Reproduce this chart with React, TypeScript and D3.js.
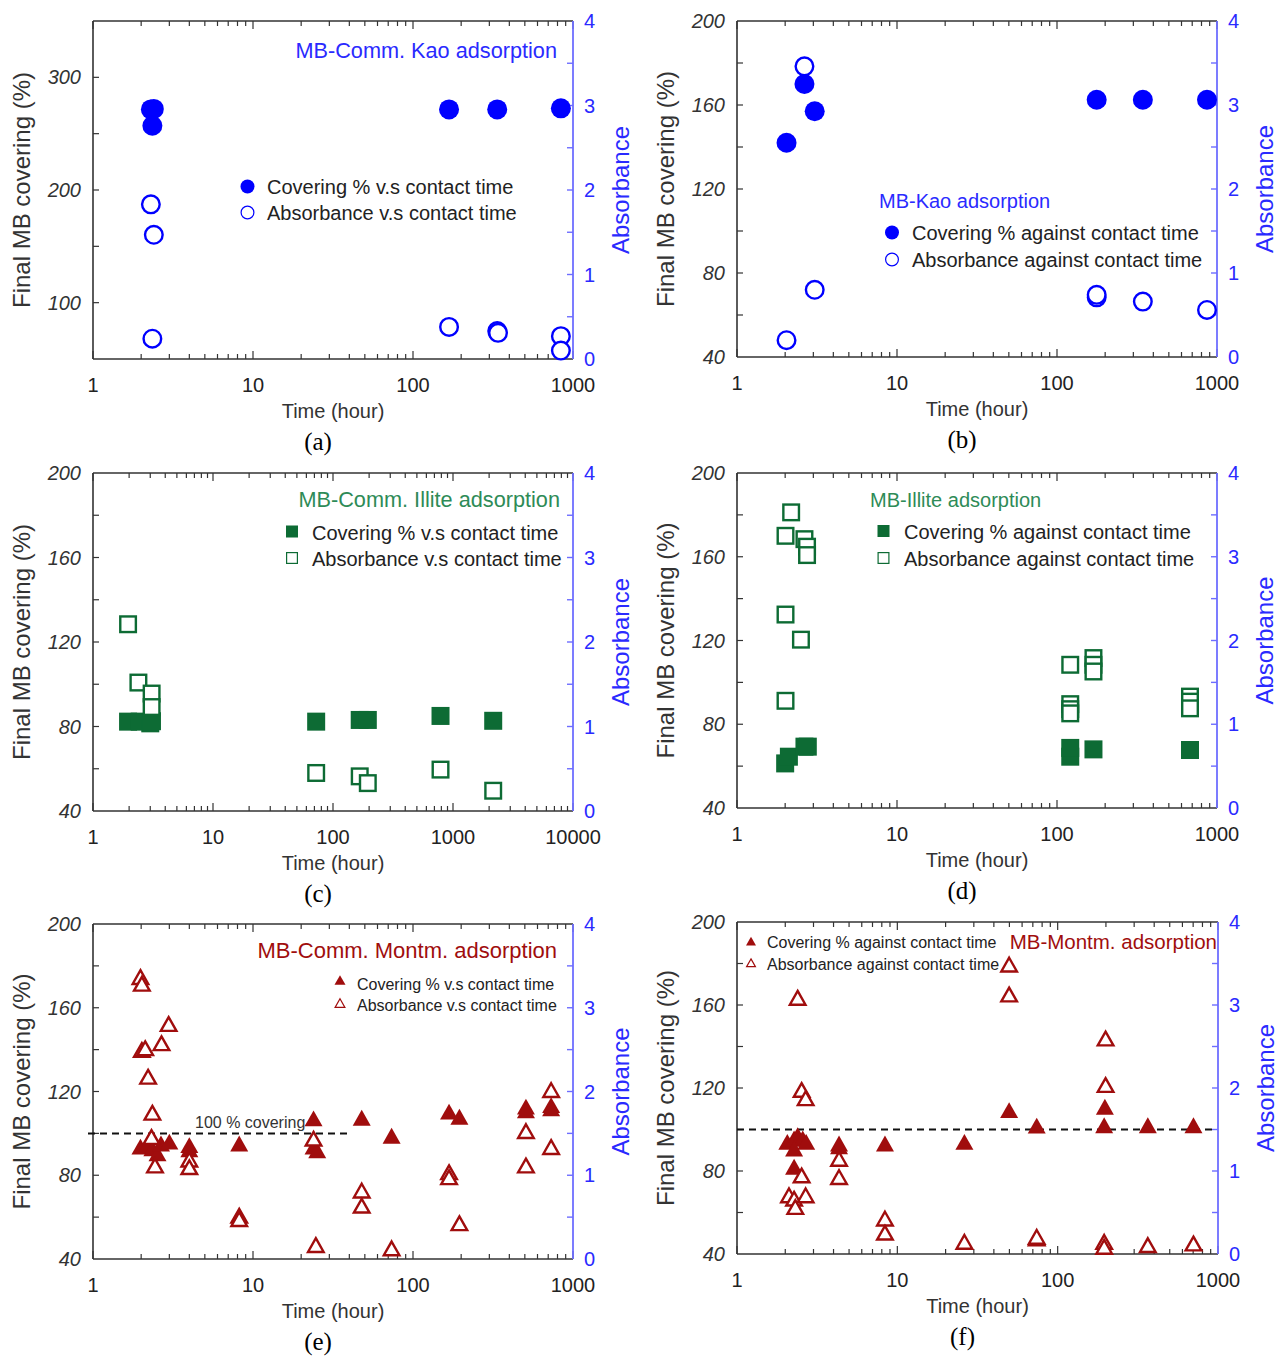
import React from 'react';
import * as d3 from 'd3';

// ---------- Data (time in hours; covering in %; absorbance) ----------
// (a) MB-Comm. Kao
const aCovTime = [2.3, 2.4, 2.35, 168, 336, 840];
const aCovValue = [271.5, 272, 257, 271.5, 271.5, 272.5];
const aAbsTime = [2.3, 2.4, 2.35, 168, 336, 340, 840, 840];
const aAbsValue = [1.83, 1.47, 0.24, 0.38, 0.33, 0.31, 0.27, 0.1];

// (b) MB-Kao
const bCovTime = [2.04, 2.64, 3.06, 177, 344, 866];
const bCovValue = [142, 170, 157, 162.5, 162.5, 162.5];
const bAbsTime = [2.64, 3.06, 2.04, 177, 177, 344, 866];
const bAbsValue = [3.46, 0.8, 0.2, 0.71, 0.74, 0.66, 0.56];

// (c) MB-Comm. Illite
const cCovTime = [1.96, 2.45, 3.0, 3.1, 72.4, 167, 195, 787, 2163];
const cCovValue = [82.3, 82.3, 81.5, 82.5, 82.3, 83.1, 83.1, 85, 82.7];
const cAbsTime = [1.96, 2.39, 3.08, 3.08, 72.4, 167, 195, 787, 2163];
const cAbsValue = [2.21, 1.52, 1.39, 1.23, 0.45, 0.41, 0.33, 0.49, 0.24];

// (d) MB-Illite
const dCovTime = [2.0, 2.11, 2.64, 2.77, 121, 121, 169, 678];
const dCovValue = [61.3, 64.5, 69.3, 69.3, 64.5, 68.7, 68, 67.7];
const dAbsTime = [2.18, 2.01, 2.64, 2.74, 2.74, 2.01, 2.51, 2.01, 121, 121, 121, 121, 169, 169, 169, 678, 678, 678];
const dAbsValue = [3.53, 3.25, 3.21, 3.12, 3.02, 2.31, 2.01, 1.28, 1.71, 1.24, 1.18, 1.13, 1.79, 1.71, 1.63, 1.33, 1.27, 1.19];

// (e) MB-Comm. Montm.
const eCovTime = [1.98, 2.18, 2.35, 2.53, 2.66, 3.0, 4.0, 4.0, 8.2, 23.9, 23.9, 25.2, 47.8, 73.5, 168, 195, 508, 508, 730, 730];
const eCovValue = [92.9, 93.6, 92.1, 89.7, 94.4, 95.3, 93.6, 91.6, 94.4, 106.4, 92.9, 91.2, 106.7, 98.1, 109.6, 107.2, 112, 110.2, 112.7, 111.2];
const eAbsTime = [1.98, 2.02, 2.02, 2.12, 2.21, 2.35, 2.32, 2.44, 2.68, 2.97, 4.0, 4.0, 8.2, 8.2, 24.7, 23.9, 47.8, 47.8, 73.5, 168, 168, 195, 508, 508, 730, 730];
const eAbsValue = [3.35, 3.27, 2.48, 2.5, 2.16, 1.73, 1.44, 1.1, 2.56, 2.79, 1.17, 1.08, 0.5, 0.46, 0.15, 1.42, 0.8, 0.62, 0.11, 1.02, 0.96, 0.41, 1.51, 1.1, 2.0, 1.32];

// (f) MB-Montm.
const fCovTime = [2.06, 2.27, 2.39, 2.57, 2.7, 2.27, 2.27, 4.33, 4.33, 8.37, 26.2, 49.8, 74, 197, 195, 365, 703];
const fCovValue = [93.3, 94.9, 96.5, 94.9, 93.3, 90.1, 81.3, 92.5, 91.1, 92.5, 93.3, 108.6, 101.1, 110.2, 101.3, 101.3, 101.3];
const fAbsTime = [49.8, 49.8, 2.39, 2.53, 2.68, 199, 199, 2.53, 4.33, 4.33, 2.11, 2.27, 2.68, 2.31, 8.37, 8.37, 26.2, 74, 74, 195, 195, 365, 703];
const fAbsValue = [3.47, 3.11, 3.07, 1.96, 1.86, 2.58, 2.02, 0.93, 1.13, 0.91, 0.69, 0.65, 0.69, 0.55, 0.41, 0.24, 0.13, 0.17, 0.19, 0.13, 0.07, 0.09, 0.11];

// tick labels
const xTickLabels1000 = [1, 10, 100, 1000];
const xTickLabels10000 = [1, 10, 100, 1000, 10000];
const aLeftLabels = [100, 200, 300];
const stdLeftLabels = [40, 80, 120, 160, 200];
const rightLabels = [0, 1, 2, 3, 4];

const FONT = "'Liberation Sans', Arial, sans-serif";
const SERIF = "'Liberation Serif', 'Times New Roman', serif";
const BLUE = '#0000ff';
const BLUE_TXT = '#2a2aff';
const BLUE_AXIS = '#6e6eff';
const GREEN = '#0d6b34';
const GREEN_TXT = '#2e8b57';
const RED = '#a00d0d';
const AXIS = '#333';

type Shape = 'circle' | 'square' | 'triangle';

interface LegendCfg {
  mx: number; y1: number; y2: number; tx: number; b1: number; b2: number;
  size: number; labels: string[]; ms: number;
}
interface PanelCfg {
  key: string;
  left: number; top: number; right: number; bottom: number;
  xMax: number; xLabels: number[];
  yMin: number; yMax: number; yLabels: number[]; yStep: number;
  color: string; titleColor: string; shape: Shape; ms: number;
  covT: number[]; covV: number[]; absT: number[]; absV: number[];
  title: string; titleX: number; titleY: number; titleAnchor: 'start' | 'end'; titleSize: number;
  legend: LegendCfg;
  caption: string;
  dash?: [number, number];
  dashText?: boolean;
}

function marker(shape: Shape, x: number, y: number, s: number, filled: boolean, color: string, sw: number, k: string) {
  const fill = filled ? color : '#fff';
  const stroke = color;
  if (shape === 'circle') {
    const r = filled ? s / 2 : s / 2 - sw / 2;
    return <circle key={k} cx={x} cy={y} r={r} fill={fill} stroke={filled ? 'none' : stroke} strokeWidth={sw} />;
  }
  if (shape === 'square') {
    const h = filled ? s / 2 : s / 2 - sw / 2;
    return <rect key={k} x={x - h} y={y - h} width={2 * h} height={2 * h} fill={fill} stroke={filled ? 'none' : stroke} strokeWidth={sw} />;
  }
  const w = filled ? s : s - sw;
  const hgt = w * 0.88;
  const p = `M${x},${y - hgt * 0.6}L${x + w / 2},${y + hgt * 0.4}L${x - w / 2},${y + hgt * 0.4}Z`;
  return <path key={k} d={p} fill={fill} stroke={filled ? 'none' : stroke} strokeWidth={sw} strokeLinejoin="miter" />;
}

function Panel({ c }: { c: PanelCfg }) {
  const x = d3.scaleLog().domain([1, c.xMax]).range([c.left, c.right]);
  const yL = d3.scaleLinear().domain([c.yMin, c.yMax]).range([c.bottom, c.top]);
  const yR = d3.scaleLinear().domain([0, 4]).range([c.bottom, c.top]);
  const midY = (c.top + c.bottom) / 2;
  const midX = (c.left + c.right) / 2;

  const logTicks: { v: number; major: boolean }[] = [];
  for (let d = 1; d < c.xMax; d *= 10) {
    for (let m = 1; m <= 9; m++) logTicks.push({ v: d * m, major: m === 1 });
  }
  logTicks.push({ v: c.xMax, major: true });

  const leftTicks = d3.range(c.yMin, c.yMax + 0.001, c.yStep).filter(v => v > c.yMin && v < c.yMax);
  const rightTicks = d3.range(0.5, 4, 0.5);
  const sw = 2.4;

  return (
    <g>
      {/* frame */}
      <line x1={c.left} x2={c.right} y1={c.bottom} y2={c.bottom} stroke={AXIS} strokeWidth={1.6} />
      <line x1={c.left} x2={c.right} y1={c.top} y2={c.top} stroke={AXIS} strokeWidth={1.6} />
      <line x1={c.left} x2={c.left} y1={c.top} y2={c.bottom} stroke={AXIS} strokeWidth={1.6} />
      {/* x ticks */}
      {logTicks.map((t, i) => (
        <g key={'xt' + i}>
          <line x1={x(t.v)} x2={x(t.v)} y1={c.bottom} y2={c.bottom - (t.major ? 8 : 5)} stroke={AXIS} strokeWidth={1.2} />
          <line x1={x(t.v)} x2={x(t.v)} y1={c.top} y2={c.top + (t.major ? 8 : 5)} stroke={AXIS} strokeWidth={1.2} />
        </g>
      ))}
      {c.xLabels.map(v => (
        <text key={'xl' + v} x={x(v)} y={c.bottom + 33} textAnchor="middle" fontSize={20} fill="#222" fontFamily={FONT}>{v}</text>
      ))}
      {/* left ticks */}
      {leftTicks.map(v => (
        <line key={'lt' + v} x1={c.left} x2={c.left + 6} y1={yL(v)} y2={yL(v)} stroke={AXIS} strokeWidth={1.2} />
      ))}
      {c.yLabels.map(v => (
        <text key={'ll' + v} x={c.left - 12} y={yL(v) + 7} textAnchor="end" fontSize={20} fontStyle="italic" fill="#333" fontFamily={FONT}>{v}</text>
      ))}
      {/* right axis */}
      <line x1={c.right} x2={c.right} y1={c.top} y2={c.bottom} stroke={BLUE_AXIS} strokeWidth={1.8} />
      {rightTicks.map(v => (
        <line key={'rt' + v} x1={c.right} x2={c.right - 6} y1={yR(v)} y2={yR(v)} stroke={BLUE_AXIS} strokeWidth={1.4} />
      ))}
      {rightLabels.map(v => (
        <text key={'rl' + v} x={c.right + 11} y={yR(v) + 7} textAnchor="start" fontSize={20} fill={BLUE_TXT} fontFamily={FONT}>{v}</text>
      ))}
      {/* axis titles */}
      <text transform={`translate(${c.left - 63},${midY}) rotate(-90)`} textAnchor="middle" fontSize={24} fill="#333" fontFamily={FONT}>Final MB covering (%)</text>
      <text transform={`translate(${Math.min(c.right + 56, 1275)},${midY}) rotate(-90)`} textAnchor="middle" fontSize={24} fill={BLUE_TXT} fontFamily={FONT}>Absorbance</text>
      <text x={midX} y={c.bottom + 59} textAnchor="middle" fontSize={20} fill="#333" fontFamily={FONT}>Time (hour)</text>
      <text x={midX - 15} y={c.bottom + 91} textAnchor="middle" fontSize={25} fill="#000" fontFamily={SERIF}>{c.caption}</text>

      {/* reference line */}
      {c.dash && (
        <line x1={c.dash[0]} x2={c.dash[1]} y1={yL(100)} y2={yL(100)} stroke="#111" strokeWidth={2} strokeDasharray="7,5" />
      )}
      {c.dashText && (
        <text x={195} y={yL(100) - 5} fontSize={16} fill="#333" fontFamily={FONT}>100 % covering</text>
      )}

      {/* data */}
      {c.covT.map((t, i) => marker(c.shape, x(t), yL(c.covV[i]), c.ms, true, c.color, sw, 'cv' + i))}
      {c.absT.map((t, i) => marker(c.shape, x(t), yR(c.absV[i]), c.ms, false, c.color, sw, 'ab' + i))}

      {/* title & legend */}
      <text x={c.titleX} y={c.titleY} textAnchor={c.titleAnchor} fontSize={c.titleSize} fill={c.titleColor} fontFamily={FONT}>{c.title}</text>
      {marker(c.shape, c.legend.mx, c.legend.y1, c.legend.ms, true, c.color, 1.5, 'lg1')}
      {marker(c.shape, c.legend.mx, c.legend.y2, c.legend.ms, false, c.color, 1.2, 'lg2')}
      <text x={c.legend.tx} y={c.legend.b1} fontSize={c.legend.size} fill="#222" fontFamily={FONT}>{c.legend.labels[0]}</text>
      <text x={c.legend.tx} y={c.legend.b2} fontSize={c.legend.size} fill="#222" fontFamily={FONT}>{c.legend.labels[1]}</text>
    </g>
  );
}

const vsLabels = ['Covering % v.s contact time', 'Absorbance v.s contact time'];
const againstLabels = ['Covering % against contact time', 'Absorbance against contact time'];

const panels: PanelCfg[] = [
  {
    key: 'a', left: 93, top: 21, right: 573, bottom: 359, xMax: 1000, xLabels: xTickLabels1000,
    yMin: 50, yMax: 350, yLabels: aLeftLabels, yStep: 50,
    color: BLUE, titleColor: BLUE_TXT, shape: 'circle', ms: 20,
    covT: aCovTime, covV: aCovValue, absT: aAbsTime, absV: aAbsValue,
    title: 'MB-Comm. Kao adsorption', titleX: 557, titleY: 58, titleAnchor: 'end', titleSize: 21.7,
    legend: { mx: 247.5, y1: 186.5, y2: 212.5, tx: 267, b1: 194, b2: 220, size: 20, labels: vsLabels, ms: 14 },
    caption: '(a)'
  },
  {
    key: 'b', left: 737, top: 21, right: 1217, bottom: 357, xMax: 1000, xLabels: xTickLabels1000,
    yMin: 40, yMax: 200, yLabels: stdLeftLabels, yStep: 20,
    color: BLUE, titleColor: BLUE_TXT, shape: 'circle', ms: 20,
    covT: bCovTime, covV: bCovValue, absT: bAbsTime, absV: bAbsValue,
    title: 'MB-Kao adsorption', titleX: 879, titleY: 208, titleAnchor: 'start', titleSize: 20,
    legend: { mx: 892, y1: 232.5, y2: 259.5, tx: 912, b1: 240, b2: 267, size: 20, labels: againstLabels, ms: 14 },
    caption: '(b)'
  },
  {
    key: 'c', left: 93, top: 473, right: 573, bottom: 811, xMax: 10000, xLabels: xTickLabels10000,
    yMin: 40, yMax: 200, yLabels: stdLeftLabels, yStep: 20,
    color: GREEN, titleColor: GREEN_TXT, shape: 'square', ms: 18,
    covT: cCovTime, covV: cCovValue, absT: cAbsTime, absV: cAbsValue,
    title: 'MB-Comm. Illite adsorption', titleX: 560, titleY: 507, titleAnchor: 'end', titleSize: 21.7,
    legend: { mx: 292, y1: 531.5, y2: 558, tx: 312, b1: 540, b2: 566, size: 20, labels: vsLabels, ms: 12 },
    caption: '(c)'
  },
  {
    key: 'd', left: 737, top: 473, right: 1217, bottom: 808, xMax: 1000, xLabels: xTickLabels1000,
    yMin: 40, yMax: 200, yLabels: stdLeftLabels, yStep: 20,
    color: GREEN, titleColor: GREEN_TXT, shape: 'square', ms: 18,
    covT: dCovTime, covV: dCovValue, absT: dAbsTime, absV: dAbsValue,
    title: 'MB-Illite adsorption', titleX: 870, titleY: 507, titleAnchor: 'start', titleSize: 20,
    legend: { mx: 883.5, y1: 531, y2: 558, tx: 904, b1: 539, b2: 566, size: 20, labels: againstLabels, ms: 12 },
    caption: '(d)'
  },
  {
    key: 'e', left: 93, top: 924, right: 573, bottom: 1259, xMax: 1000, xLabels: xTickLabels1000,
    yMin: 40, yMax: 200, yLabels: stdLeftLabels, yStep: 20,
    color: RED, titleColor: RED, shape: 'triangle', ms: 18,
    covT: eCovTime, covV: eCovValue, absT: eAbsTime, absV: eAbsValue,
    title: 'MB-Comm. Montm. adsorption', titleX: 557, titleY: 958, titleAnchor: 'end', titleSize: 22,
    legend: { mx: 340, y1: 981, y2: 1004, tx: 357, b1: 990, b2: 1011, size: 16, labels: vsLabels, ms: 11 },
    caption: '(e)', dash: [88, 350], dashText: true
  },
  {
    key: 'f', left: 737, top: 922, right: 1218, bottom: 1254, xMax: 1000, xLabels: xTickLabels1000,
    yMin: 40, yMax: 200, yLabels: stdLeftLabels, yStep: 20,
    color: RED, titleColor: RED, shape: 'triangle', ms: 18,
    covT: fCovTime, covV: fCovValue, absT: fAbsTime, absV: fAbsValue,
    title: 'MB-Montm. adsorption', titleX: 1217, titleY: 949, titleAnchor: 'end', titleSize: 20.5,
    legend: { mx: 751, y1: 942, y2: 963.5, tx: 767, b1: 948, b2: 970, size: 16, labels: againstLabels, ms: 10 },
    caption: '(f)', dash: [737, 1217]
  }
];

export default function App() {
  return (
    <svg width={1278} height={1357} style={{ position: 'absolute', left: 0, top: 0, background: '#fff' }}>
      <rect x={0} y={0} width={1278} height={1357} fill="#fff" />
      {panels.map(p => <Panel key={p.key} c={p} />)}
    </svg>
  );
}
